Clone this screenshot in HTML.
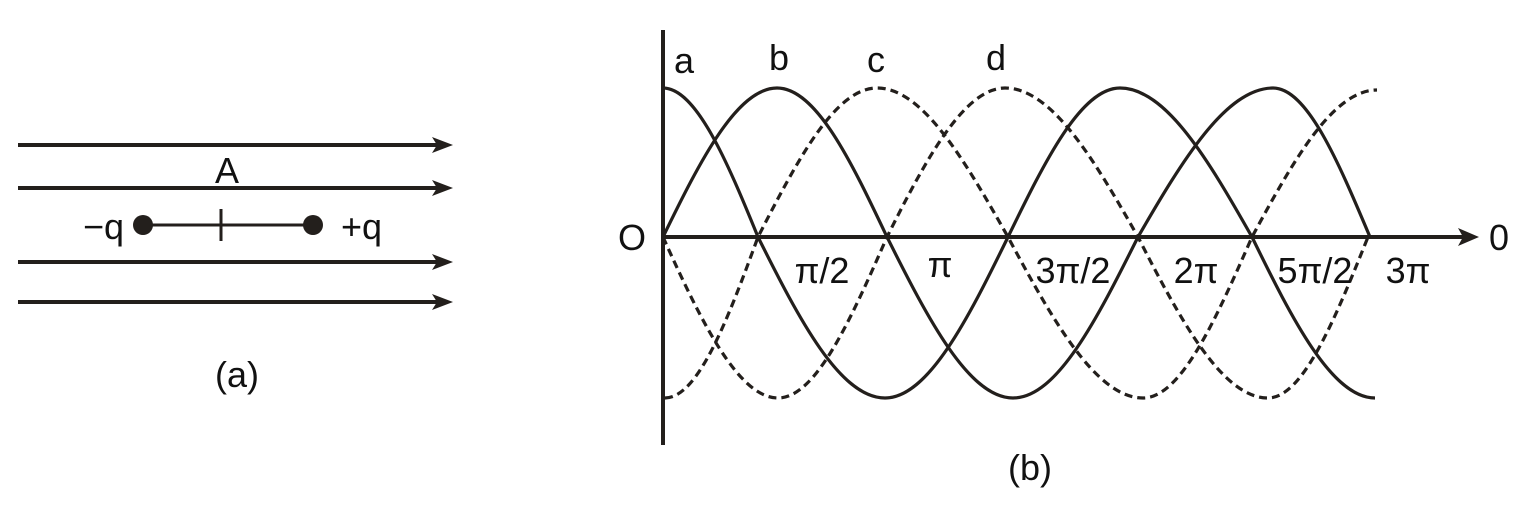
<!DOCTYPE html>
<html><head><meta charset="utf-8"><style>
html,body{margin:0;padding:0;background:#fff;}
svg{display:block;}
text{font-family:"Liberation Sans",sans-serif;fill:#111;}
</style></head><body>
<svg width="1520" height="505" viewBox="0 0 1520 505" xmlns="http://www.w3.org/2000/svg">
<g stroke="#231f1c" stroke-width="4" fill="none">
<line x1="18" y1="145" x2="445" y2="145"/>
<line x1="18" y1="188" x2="445" y2="188"/>
<line x1="18" y1="262" x2="445" y2="262"/>
<line x1="18" y1="302" x2="445" y2="302"/>
</g>
<g fill="#231f1c">
<path d="M453,145 L432,137 L437,145 L432,153 Z"/>
<path d="M453,188 L432,180 L437,188 L432,196 Z"/>
<path d="M453,262 L432,254 L437,262 L432,270 Z"/>
<path d="M453,302 L432,294 L437,302 L432,310 Z"/>
<circle cx="143" cy="225" r="10"/>
<circle cx="313" cy="225" r="10"/>
</g>
<line x1="143" y1="225" x2="313" y2="225" stroke="#231f1c" stroke-width="3"/>
<line x1="221" y1="209" x2="221" y2="241" stroke="#231f1c" stroke-width="3"/>
<g font-size="36">
<text x="227" y="183" text-anchor="middle">A</text>
<text x="124" y="239" text-anchor="end">−q</text>
<text x="341" y="239">+q</text>
<text x="237" y="387" text-anchor="middle">(a)</text>
</g>

<g stroke="#231f1c" stroke-width="4" fill="none">
<line x1="663" y1="30" x2="663" y2="445"/>
<line x1="663" y1="237" x2="1465" y2="237"/>
</g>
<path d="M1479,237 L1458,228 L1463,237 L1458,246 Z" fill="#231f1c"/>
<g stroke="#231f1c" stroke-width="3.2" fill="none">
<path d="M663,88 C696,88 727,161 758,237 C799,319 840,398 885,398 C928,398 968,319 1008,237 C1045,161 1081,88 1120,88 C1166,88 1209,161 1252,237 C1292,319 1332,398 1375,398"/>
<path d="M663,237 C700,161 737,88 777,88 C816,88 851,161 887,237 C928,319 969,398 1013,398 C1057,398 1097,319 1138,237 C1182,161 1226,88 1273,88 C1307,88 1338,161 1370,237"/>
</g>
<g stroke="#231f1c" stroke-width="3.2" fill="none" stroke-dasharray="8,5">
<path d="M665,398 C698,398 728,319 758,237 C797,161 835,88 877,88 C923,88 965,161 1008,237 C1052,319 1096,398 1143,398 C1181,398 1216,319 1252,237 C1293,161 1333,90 1377,90"/>
<path d="M663,237 C700,319 738,398 778,398 C816,398 851,319 887,237 C925,161 964,88 1005,88 C1052,88 1095,161 1138,237 C1180,319 1222,398 1268,398 C1303,398 1335,319 1368,237"/>
</g>
<g font-size="36">
<text x="632" y="250" text-anchor="middle">O</text>
<text x="1499" y="250" text-anchor="middle">0</text>
<text x="684" y="73" text-anchor="middle">a</text>
<text x="779" y="70" text-anchor="middle">b</text>
<text x="876" y="72" text-anchor="middle">c</text>
<text x="996" y="70" text-anchor="middle">d</text>
<text x="822" y="283" text-anchor="middle">π/2</text>
<text x="940" y="277" text-anchor="middle">π</text>
<text x="1073" y="283" text-anchor="middle">3π/2</text>
<text x="1196" y="283" text-anchor="middle">2π</text>
<text x="1315" y="283" text-anchor="middle">5π/2</text>
<text x="1408" y="283" text-anchor="middle">3π</text>
<text x="1030" y="480" text-anchor="middle">(b)</text>
</g>
</svg>
</body></html>
